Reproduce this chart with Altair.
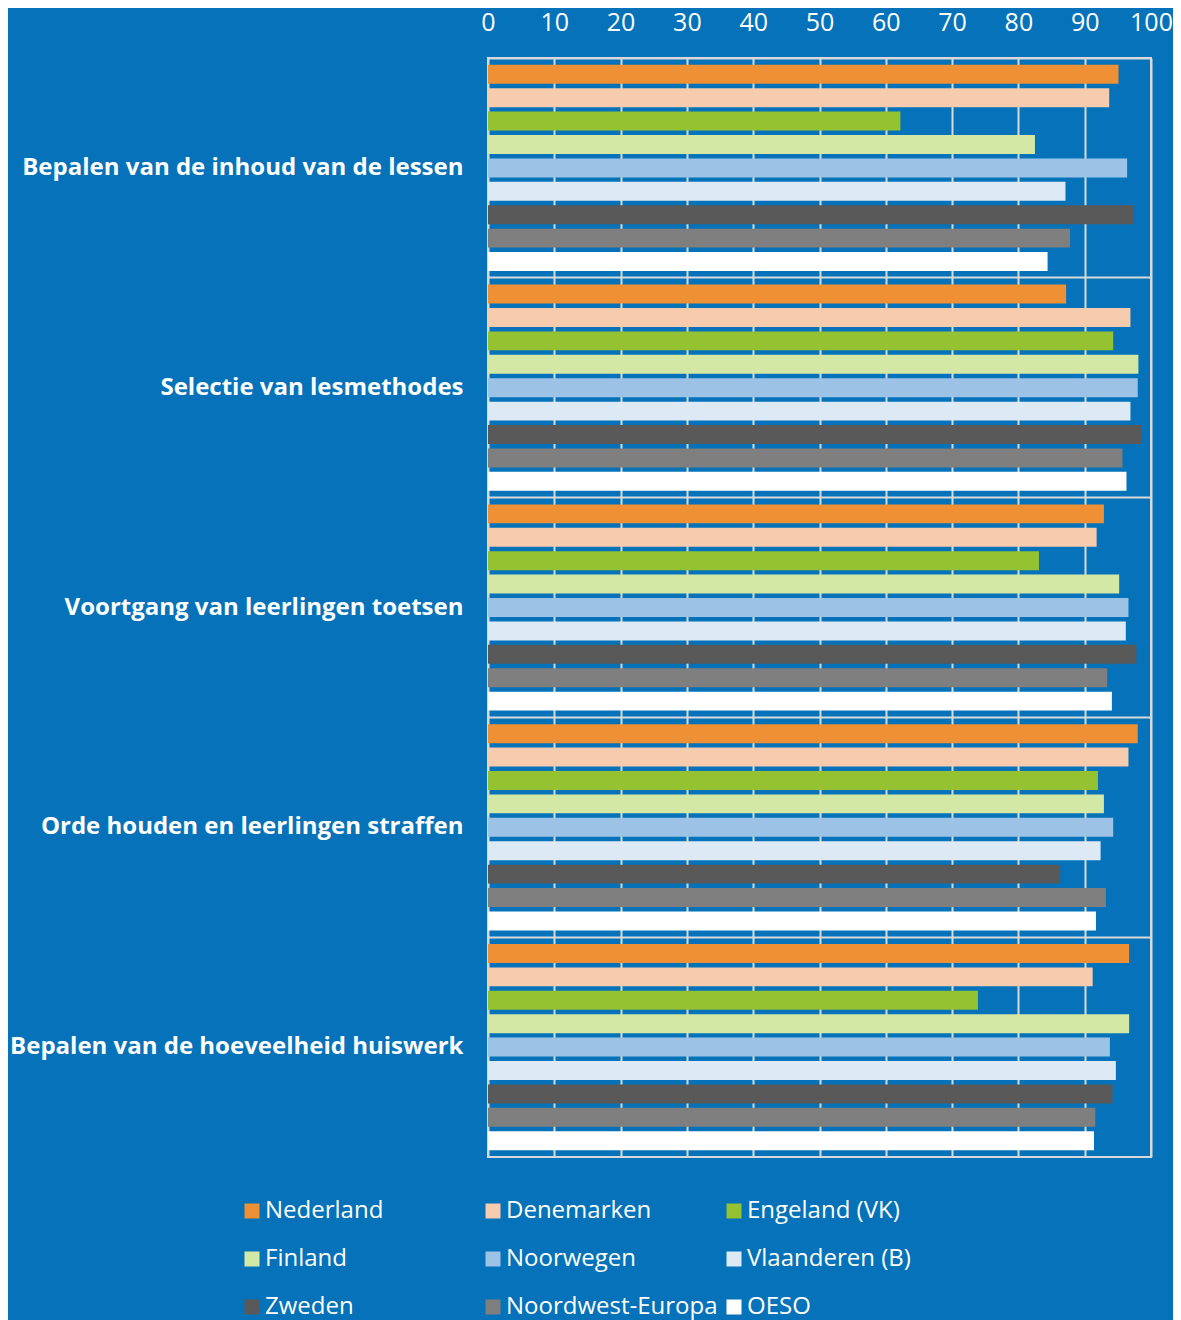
import altair as alt
import pandas as pd

categories = [
    "Bepalen van de inhoud van de lessen",
    "Selectie van lesmethodes",
    "Voortgang van leerlingen toetsen",
    "Orde houden en leerlingen straffen",
    "Bepalen van de hoeveelheid huiswerk",
]
series = ["Nederland", "Denemarken", "Engeland (VK)", "Finland", "Noorwegen",
          "Vlaanderen (B)", "Zweden", "Noordwest-Europa", "OESO"]
colors = ["#ee9033", "#f7cbad", "#95c231", "#d4e8a6", "#9cc3e6",
          "#ddeaf6", "#595959", "#7f7f7f", "#ffffff"]

nederland = [95.1, 87.2, 92.9, 98.0, 96.7]
denemarken = [93.7, 96.9, 91.8, 96.6, 91.2]
engeland = [62.2, 94.3, 83.1, 92.0, 73.9]
finland = [82.5, 98.1, 95.2, 92.9, 96.7]
noorwegen = [96.4, 98.0, 96.6, 94.3, 93.8]
vlaanderen = [87.1, 96.9, 96.2, 92.4, 94.7]
zweden = [97.4, 98.5, 97.8, 86.3, 94.2]
nw_europa = [87.8, 95.7, 93.4, 93.2, 91.6]
oeso = [84.4, 96.3, 94.1, 91.7, 91.4]

all_values = [nederland, denemarken, engeland, finland, noorwegen,
              vlaanderen, zweden, nw_europa, oeso]
x_ticks = [0, 10, 20, 30, 40, 50, 60, 70, 80, 90, 100]

rows = []
for s, vals in zip(series, all_values):
    for c, v in zip(categories, vals):
        rows.append({"categorie": c, "land": s, "waarde": v})
df = pd.DataFrame(rows)

BG = "#0572b9"
GRID = "#d9d9d9"

chart = alt.Chart(df).mark_bar().encode(
    x=alt.X("waarde:Q",
            scale=alt.Scale(domain=[0, 100], nice=False),
            axis=alt.Axis(orient="top", values=x_ticks, title=None,
                          domain=False, ticks=False, grid=True,
                          gridColor=GRID, gridWidth=2, labelFlush=False,
                          labelColor="white", labelFontSize=25,
                          labelFont="Open Sans", labelPadding=23)),
    y=alt.Y("categorie:N", sort=categories,
            scale=alt.Scale(paddingInner=0, paddingOuter=0),
            axis=alt.Axis(title=None, domain=False, ticks=False, grid=True,
                          bandPosition=0, gridColor=GRID, gridWidth=2,
                          labelColor="white", labelFontSize=24,
                          labelFontWeight="bold", labelFont="Open Sans",
                          labelPadding=25, labelLimit=600)),
    yOffset=alt.YOffset("land:N", sort=series,
                        scale=alt.Scale(paddingInner=0.19, paddingOuter=0.29)),
    color=alt.Color("land:N", sort=series,
                    scale=alt.Scale(domain=series, range=colors),
                    legend=alt.Legend(title=None, orient="none",
                                      direction="horizontal",
                                      legendX=-248, legendY=1141,
                                      columns=3, gridAlign="all",
                                      columnPadding=4, rowPadding=24,
                                      symbolType="square", symbolSize=225,
                                      symbolStrokeWidth=0, symbolOffset=0,
                                      labelOffset=1, padding=0,
                                      labelColor="white", labelFontSize=24,
                                      labelFont="Open Sans", labelLimit=400)),
).properties(
    width=663,
    height=1099,
    background=BG,
    padding={"left": 480, "top": 50, "right": 22, "bottom": 163},
    autosize=alt.AutoSizeParams(type="none"),
).configure_view(
    stroke=GRID, strokeWidth=2, fill=BG
)

chart.save("out.html", embed_options={"renderer": "svg", "actions": False})
